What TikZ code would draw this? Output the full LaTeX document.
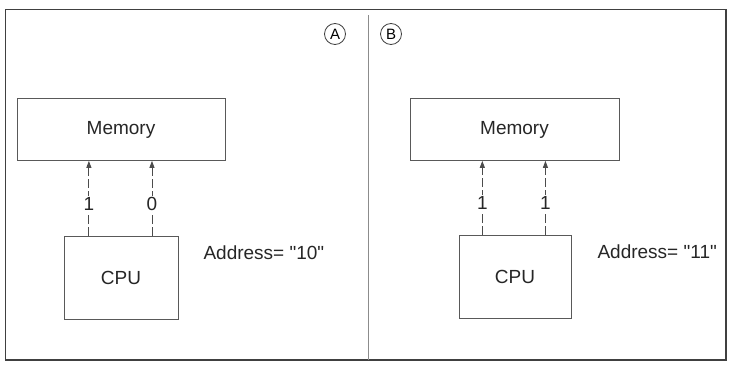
\documentclass[tikz,border=0pt]{standalone}
\usepackage{fontspec}
\setmainfont{Liberation Sans}[Ligatures=TeXOff]
\usetikzlibrary{arrows.meta,positioning,calc}

\begin{document}
\begin{tikzpicture}[
    x=1pt, y=-1pt,
    >={Triangle[length=7pt,width=5pt]},
    unit/.style={draw=black!65, line width=0.7pt, text=black!85, inner sep=0pt},
    bus/.style={->, draw=black!70, line width=0.9pt, dash pattern=on 9pt off 3pt},
    bit/.style={fill=white, inner sep=1.5pt, text=black!85},
    caption/.style={text=black!85, inner sep=0pt},
    tag/.style={circle, draw=black!75, line width=0.8pt, minimum size=21pt, inner sep=0pt, font=\fontsize{15}{17}\selectfont},
    font=\fontsize{19}{22}\selectfont
  ]
    \useasboundingbox (0,0) rectangle (731,372);
    % outer frame and divider
    \draw[black!75, line width=1.4pt] (5.5,9.5) rectangle (726,360);
    \draw[black!45, line width=0.6pt] (368,15) -- (368,360);
    \node[tag] (tagA) at (335,34) {A};
    \node[tag] (tagB) at (391,34) {B};
    % case A
    \node[unit, minimum width=208pt, minimum height=62pt] (memA) at (121,129.5) {Memory};
    \node[unit, minimum width=114pt, minimum height=83pt] (cpuA) at (121,278) {CPU};
    \node[caption, anchor=west] (addrA) at ([xshift=25pt,yshift=25pt]cpuA.east) {Address= "10"};
    \coordinate (a1) at ($(cpuA.north west)!0.22!(cpuA.north east)$);
    \coordinate (a0) at ($(cpuA.north west)!0.77!(cpuA.north east)$);
    \draw[bus] (a1) -- node[bit, pos=0.43] {1} (a1 |- memA.south);
    \draw[bus] (a0) -- node[bit, pos=0.43] {0} (a0 |- memA.south);
    % case B
    \node[unit, minimum width=209pt, minimum height=62pt] (memB) at (514.5,129.5) {Memory};
    \node[unit, minimum width=112pt, minimum height=83pt] (cpuB) at (515,277) {CPU};
    \node[caption, anchor=west] (addrB) at ([xshift=26pt,yshift=25pt]cpuB.east) {Address= "11"};
    \coordinate (b1) at ($(cpuB.north west)!0.21!(cpuB.north east)$);
    \coordinate (b2) at ($(cpuB.north west)!0.77!(cpuB.north east)$);
    \draw[bus] (b1) -- node[bit, pos=0.43] {1} (b1 |- memB.south);
    \draw[bus] (b2) -- node[bit, pos=0.43] {1} (b2 |- memB.south);
\end{tikzpicture}
\end{document}
